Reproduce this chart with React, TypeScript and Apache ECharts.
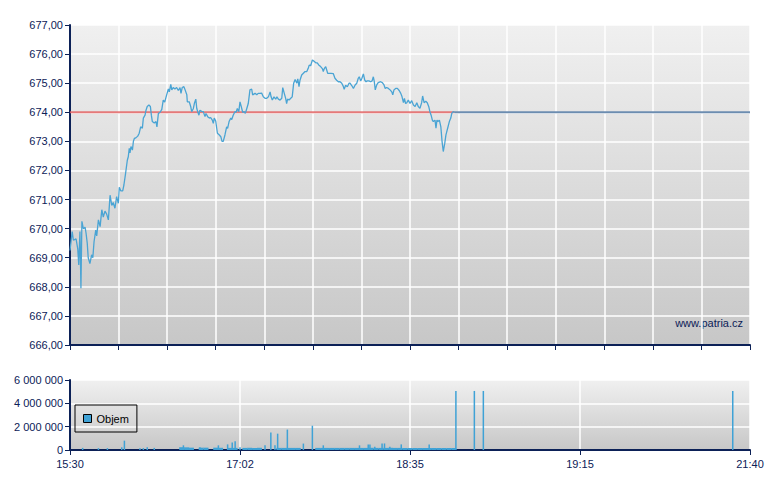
import React, { useEffect, useRef } from "react";
import * as echarts from "echarts";

// x positions are trade-sequence units (0..280); labels below map to 0,70,140,210,280
const timeLabels = ["15:30", "17:02", "18:35", "19:15", "21:40"];
const prevClose = 674.0;

const pricePoints: [number, number][] = [
  [0, 669.25], [0.9, 669.9], [1.4, 669.6], [2.5, 669.65], [3.2, 669.3], [3.6, 668.75], [4.1, 669.9], [4.5, 667.95],
  [4.9, 670.25], [5.5, 670.0], [6.2, 670.05], [6.6, 669.85], [7.1, 669.5], [7.5, 669.0], [8.2, 668.8], [8.9, 669.1],
  [9.4, 669.0], [9.9, 669.55], [10.6, 669.95], [11.0, 669.75], [11.7, 670.3], [12.4, 670.07], [13.1, 670.65],
  [13.7, 670.4], [14.4, 670.6], [15.1, 670.5], [15.8, 670.3], [16.5, 671.15], [17.2, 670.8], [17.8, 670.9],
  [18.5, 670.7], [19.2, 671.1], [19.9, 670.87], [20.3, 671.42], [20.9, 671.3], [21.7, 671.3], [22.2, 671.5],
  [22.8, 671.85], [23.2, 672.1], [23.6, 672.35], [24.0, 672.47], [24.4, 672.76], [24.7, 672.6], [25.1, 672.82],
  [25.7, 672.7], [26.1, 673.0], [26.5, 673.1], [27.1, 673.12], [27.9, 673.18], [28.5, 673.28], [29.1, 673.5],
  [29.8, 673.45], [30.2, 673.8], [30.9, 673.9], [31.3, 674.07], [31.8, 674.2], [32.5, 674.25], [33.1, 674.2],
  [33.5, 673.9], [33.9, 673.68], [34.7, 673.63], [35.4, 673.68], [35.8, 673.5], [36.4, 673.96], [37.1, 674.0],
  [37.8, 674.1], [38.4, 674.42], [39.0, 674.35], [39.8, 674.6], [40.5, 674.8], [40.9, 674.7], [41.5, 674.96],
  [41.9, 674.77], [42.5, 674.85], [43.2, 674.8], [43.9, 674.85], [44.6, 674.75], [45.3, 674.85], [45.7, 674.65],
  [46.2, 674.85], [46.9, 674.88], [47.4, 674.77], [48.1, 674.6], [48.3, 674.36], [49.1, 674.36], [49.7, 674.2],
  [50.1, 674.02], [50.8, 674.13], [51.2, 674.3], [51.8, 674.45], [52.2, 674.13], [52.6, 674.02], [53.1, 673.9],
  [53.5, 674.07], [54.2, 674.03], [54.9, 674.02], [55.6, 673.85], [56.0, 673.96], [56.7, 673.85], [57.4, 673.8],
  [57.9, 673.82], [58.6, 673.73], [59.0, 673.62], [59.4, 673.8], [60.0, 673.7], [60.7, 673.28], [61.5, 673.22],
  [62.1, 673.16], [62.6, 673.0], [63.1, 673.0], [63.8, 673.22], [64.5, 673.5], [64.9, 673.45], [65.5, 673.68],
  [66.2, 673.8], [66.6, 673.75], [67.2, 673.9], [67.9, 674.02], [68.4, 674.0], [68.9, 674.13], [69.5, 674.02],
  [70.0, 674.36], [70.5, 674.2], [71.1, 674.0], [71.7, 674.02], [72.2, 673.96], [72.8, 674.13], [73.4, 674.3],
  [74.1, 674.77], [74.8, 674.8], [75.2, 674.6], [76.2, 674.65], [76.9, 674.6], [77.5, 674.65], [78.2, 674.65],
  [78.9, 674.66], [79.6, 674.53], [80.3, 674.48], [81.0, 674.48], [81.7, 674.53], [82.4, 674.7], [82.8, 674.53],
  [83.3, 674.42], [84.0, 674.53], [84.7, 674.45], [85.2, 674.53], [85.8, 674.45], [86.5, 674.42], [87.2, 674.48],
  [87.6, 674.85], [88.2, 674.66], [88.8, 674.48], [89.2, 674.3], [89.6, 674.45], [90.2, 674.42], [90.9, 674.48],
  [91.5, 674.53], [92.1, 675.0], [92.7, 675.13], [93.4, 675.0], [93.8, 675.15], [94.3, 674.88], [94.7, 675.1],
  [95.4, 675.28], [96.1, 675.34], [96.8, 675.4], [97.5, 675.4], [98.1, 675.51], [98.5, 675.62], [99.1, 675.6],
  [99.8, 675.8], [100.5, 675.75], [101.2, 675.7], [101.8, 675.7], [102.5, 675.62], [103.2, 675.57], [103.9, 675.5],
  [104.3, 675.4], [104.7, 675.5], [105.3, 675.57], [106.1, 675.34], [106.7, 675.34], [107.5, 675.34], [108.4, 675.33],
  [109.1, 675.17], [109.8, 675.1], [110.5, 675.05], [111.2, 675.05], [111.9, 675.0], [112.5, 674.9], [112.9, 674.79],
  [113.5, 674.93], [114.2, 674.88], [114.9, 675.0], [115.3, 675.0], [116.0, 674.92], [116.7, 674.82], [117.4, 674.94],
  [118.1, 675.0], [118.7, 675.17], [119.1, 675.22], [119.7, 675.08], [120.2, 675.17], [120.8, 675.32], [121.4, 675.1],
  [121.9, 675.05], [122.4, 675.08], [123.1, 675.08], [123.8, 675.05], [124.4, 675.08], [124.9, 675.22], [125.3, 675.05],
  [125.7, 674.77], [126.3, 674.94], [126.9, 675.02], [127.9, 675.05], [128.6, 675.02], [129.3, 674.94], [129.8, 674.82],
  [130.4, 674.85], [131.1, 674.82], [131.8, 674.77], [132.5, 674.7], [132.9, 674.6], [133.4, 674.77], [134.1, 674.82],
  [134.8, 674.82], [135.6, 674.74], [136.2, 674.65], [136.7, 674.54], [137.3, 674.33], [137.7, 674.48], [138.2, 674.3],
  [138.7, 674.33], [139.3, 674.42], [140.0, 674.3], [140.7, 674.4], [141.4, 674.25], [142.1, 674.2], [142.8, 674.33],
  [143.4, 674.2], [144.1, 674.14], [144.8, 674.33], [145.2, 674.56], [145.8, 674.33], [146.5, 674.38], [147.1, 674.33],
  [147.7, 674.2], [148.2, 674.02], [148.7, 673.9], [149.2, 673.73], [149.6, 673.68], [150.3, 673.73], [150.7, 673.45],
  [151.1, 673.73], [151.5, 673.68], [152.1, 673.73], [152.7, 673.5], [153.2, 673.0], [153.7, 672.65], [154.3, 672.93],
  [154.8, 673.22], [155.5, 673.45], [156.2, 673.68], [156.8, 673.8], [157.2, 673.96], [157.8, 674.02], [158.5, 674.0],
];

// volume spikes [position, shares]
const volumeSpikes: [number, number][] = [
  [5.2, 180000], [11.7, 160000], [15.4, 160000], [21.3, 230000], [22.4, 800000], [28.8, 160000], [30.2, 160000],
  [31.8, 230000], [34.7, 180000], [46.7, 400000], [53.5, 230000], [61.1, 400000], [64.9, 480000], [66.8, 640000],
  [68.0, 740000], [70.0, 230000], [80.3, 400000], [82.7, 1500000], [84.4, 400000], [85.5, 1400000],
  [89.5, 1750000], [96.1, 550000], [99.8, 2080000], [104.3, 400000], [119.2, 400000], [122.8, 480000],
  [123.5, 480000], [125.5, 280000], [128.5, 560000], [129.5, 560000], [131.7, 280000], [136.4, 480000],
  [147.9, 480000], [158.9, 5060000], [166.5, 5060000], [170.2, 5060000], [272.9, 5060000],
];

// low continuous trading volume [position, shares]
const volumeBase: [number, number][] = [
  [46, 240000], [48, 230000], [50, 200000], [54, 200000], [56, 200000], [60, 200000], [62, 190000],
  [66, 180000], [68, 180000], [72, 180000], [74, 190000], [76, 180000], [78, 190000], [86, 180000],
  [88, 180000], [90, 180000], [92, 180000], [94, 180000], [102, 180000], [104, 180000], [106, 180000],
  [108, 180000], [110, 180000], [112, 180000], [114, 180000], [116, 180000], [118, 180000], [120, 180000],
  [122, 180000], [124, 190000], [126, 180000], [128, 180000], [130, 180000], [132, 190000], [134, 180000],
  [136, 180000], [138, 170000], [140, 170000], [142, 170000], [144, 170000], [146, 170000], [148, 170000],
  [150, 170000], [152, 170000], [154, 170000], [156, 170000], [158, 170000],
];

const NAVY = "#0c2157";
const FONT = "Liberation Sans";

function bgGradient() {
  return {
    type: "linear",
    x: 0,
    y: 0,
    x2: 0,
    y2: 1,
    colorStops: [
      { offset: 0, color: "#f0f0f0" },
      { offset: 1, color: "#c7c7c7" },
    ],
  };
}

export default function App() {
  const ref = useRef<HTMLDivElement>(null);

  useEffect(() => {
    if (!ref.current) return;
    const chart = echarts.init(ref.current, null, { renderer: "svg" });
    const last = pricePoints[pricePoints.length - 1];
    const first = pricePoints[0];

    const option: any = {
      animation: false,
      backgroundColor: "#ffffff",
      textStyle: { fontFamily: FONT },
      grid: [
        { left: 70, top: 25, width: 680, height: 320, show: true, backgroundColor: bgGradient(), borderWidth: 0 },
        { left: 70, top: 380, width: 680, height: 70, show: true, backgroundColor: bgGradient(), borderWidth: 0 },
      ],
      legend: {
        data: ["Objem"],
        left: 75,
        top: 405,
        orient: "vertical",
        padding: [8, 8, 8, 8],
        borderColor: "#000",
        borderWidth: 1,
        backgroundColor: "transparent",
        itemWidth: 8,
        itemHeight: 8,
        icon: "rect",
        itemStyle: { borderColor: "#000", borderWidth: 1 },
        textStyle: { fontFamily: FONT, fontSize: 11, color: "#000" },
        selectedMode: false,
      },
      xAxis: [
        {
          type: "value",
          gridIndex: 0,
          min: 0,
          max: 280,
          interval: 20,
          axisLine: { show: true, lineStyle: { color: NAVY, width: 2 } },
          axisTick: { show: true, length: 5, lineStyle: { color: NAVY, width: 1 } },
          axisLabel: { show: false },
          splitLine: { show: true, lineStyle: { color: "#ffffff", width: 1.5 } },
        },
        {
          type: "value",
          gridIndex: 1,
          min: 0,
          max: 280,
          interval: 70,
          axisLine: { show: true, lineStyle: { color: NAVY, width: 2 } },
          axisTick: { show: true, length: 5, lineStyle: { color: NAVY, width: 1 } },
          axisLabel: {
            show: true,
            color: NAVY,
            fontFamily: FONT,
            fontSize: 11,
            margin: 8,
            showMinLabel: true,
            showMaxLabel: true,
            formatter: (v: number) => timeLabels[Math.round(v / 70)] ?? "",
          },
          splitLine: { show: true, lineStyle: { color: "#ffffff", width: 1.5 } },
        },
        {
          type: "value",
          gridIndex: 1,
          min: 0,
          max: 280,
          show: false,
        },
      ],
      yAxis: [
        {
          type: "value",
          gridIndex: 0,
          min: 666,
          max: 677,
          interval: 1,
          axisLine: { show: true, lineStyle: { color: NAVY, width: 2 } },
          axisTick: { show: true, length: 5, lineStyle: { color: NAVY, width: 1 } },
          axisLabel: {
            color: NAVY,
            fontFamily: FONT,
            fontSize: 11,
            margin: 7,
            formatter: (v: number) => v.toFixed(2).replace(".", ","),
          },
          splitLine: { show: true, lineStyle: { color: "#ffffff", width: 1.5 } },
        },
        {
          type: "value",
          gridIndex: 1,
          min: 0,
          max: 6000000,
          interval: 2000000,
          axisLine: { show: true, lineStyle: { color: NAVY, width: 2 } },
          axisTick: { show: true, length: 5, lineStyle: { color: NAVY, width: 1 } },
          axisLabel: {
            color: NAVY,
            fontFamily: FONT,
            fontSize: 11,
            margin: 7,
            formatter: (v: number) => String(v).replace(/\B(?=(\d{3})+(?!\d))/g, " "),
          },
          splitLine: { show: true, lineStyle: { color: "#ffffff", width: 1.5 } },
        },
      ],
      series: [
        {
          name: "ref",
          type: "line",
          xAxisIndex: 0,
          yAxisIndex: 0,
          data: [
            [first[0], prevClose],
            [last[0], prevClose],
          ],
          showSymbol: false,
          lineStyle: { color: "#e26464", width: 2, opacity: 0.85 },
          silent: true,
          z: 2,
        },
        {
          name: "Cena",
          type: "line",
          xAxisIndex: 0,
          yAxisIndex: 0,
          data: pricePoints,
          showSymbol: false,
          lineStyle: { color: "#4aa4d4", width: 1.3 },
          silent: true,
          z: 3,
        },
        {
          name: "after",
          type: "line",
          xAxisIndex: 0,
          yAxisIndex: 0,
          data: [
            [last[0], last[1]],
            [280, last[1]],
          ],
          showSymbol: false,
          lineStyle: { color: "#6c8db0", width: 2 },
          silent: true,
          z: 3,
        },
        {
          name: "Objem",
          type: "bar",
          xAxisIndex: 1,
          yAxisIndex: 1,
          data: volumeBase,
          barWidth: 5,
          itemStyle: { color: "#3fa2d6" },
          silent: true,
        },
        {
          name: "Objem",
          type: "bar",
          xAxisIndex: 2,
          yAxisIndex: 1,
          data: volumeSpikes,
          barWidth: 1.5,
          itemStyle: { color: "#3fa2d6" },
          silent: true,
        },
      ],
      graphic: [
        {
          type: "text",
          right: 37,
          top: 317,
          style: { text: "www.patria.cz", fill: NAVY, font: `11px "${FONT}"` },
          silent: true,
        },
      ],
    };

    chart.setOption(option);
    return () => chart.dispose();
  }, []);

  return (
    <div
      ref={ref}
      style={{ position: "fixed", left: 0, top: 0, width: 780, height: 490, background: "#fff" }}
    />
  );
}
